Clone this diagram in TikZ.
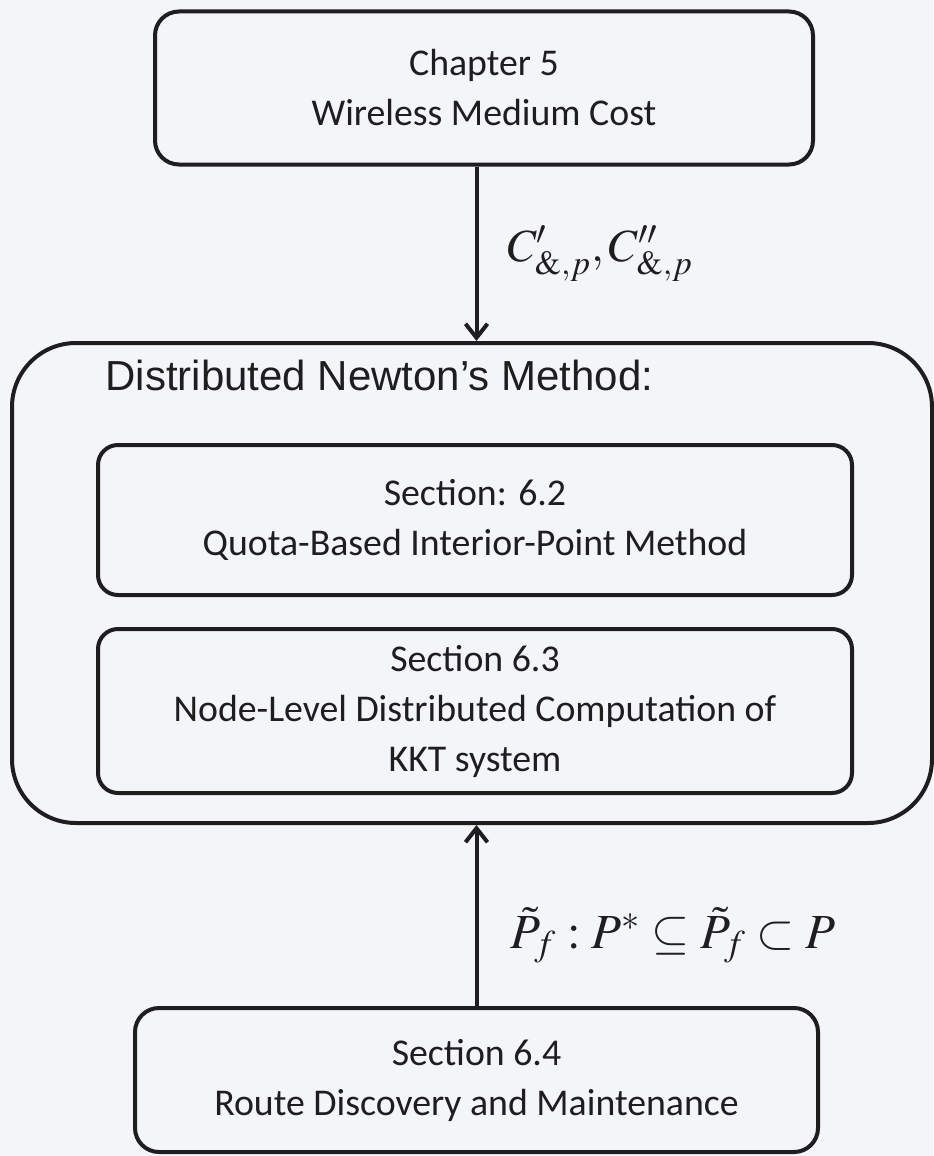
\documentclass[tikz,border=0pt]{standalone}
\usepackage{mathptmx}
\usepackage[no-math]{fontspec}
\setmainfont{Carlito}
\newfontfamily\arialfont{Liberation Sans}
\usetikzlibrary{arrows.meta}
\definecolor{paper}{RGB}{244,245,249}
\definecolor{ink}{RGB}{30,30,30}

\begin{document}
\begin{tikzpicture}[x=0.5pt,y=-0.5pt,>={Straight Barb[length=7pt,width=11pt,line width=2pt]},
        box/.style={draw=ink,line width=2pt,rounded corners=12pt,align=center,text=ink,
          inner sep=0pt,font=\fontsize{18.9}{25}\selectfont},
        arr/.style={->,draw=ink,line width=2pt},
        lbl/.style={anchor=west,text=ink,inner sep=0pt}]
        \useasboundingbox[fill=paper] (0,0) rectangle (933,1156);
        \node[box,minimum width=329pt,minimum height=76.5pt]  (chap) at (484,88) {Chapter 5\\Wireless Medium Cost};
        \node[box,rounded corners=32pt,minimum width=460pt,minimum height=240pt]  (dnm) at (472,583) {};
        \node[anchor=base west,text=ink,inner sep=0pt,font=\arialfont\fontsize{21}{25}\selectfont]
          (dnmtitle) at (105,390) {Distributed Newton’s Method:};
        \node[box,rounded corners=10pt,minimum width=377pt,minimum height=75pt]  (sec2) at (475,520)
          {Section: 6.2\\Quota-Based Interior-Point Method};
        \node[box,rounded corners=10pt,minimum width=377pt,minimum height=82pt]  (sec3) at (475,711)
          {Section 6.3\\Node-Level Distributed Computation of\\KKT system};
        \node[box,minimum width=341.5pt,minimum height=72pt]  (route) at (476.5,1080)
          {Section 6.4\\Route Discovery and Maintenance};
        \draw[arr] (chap.south -| route.north) -- (route.north |- dnm.north)
          node[lbl,pos=.5,xshift=14.5pt,font=\fontsize{23}{28}\selectfont] (cost) {$C'_{\&,p},C''_{\&,p}$};
        \draw[arr] (route.north) -- (route.north |- dnm.south)
          node[lbl,pos=.39,xshift=16pt,font=\fontsize{24.5}{30}\selectfont] (paths)
          {$\tilde{P}_f : P^{*} \subseteq \tilde{P}_f \subset P$};
      \end{tikzpicture}
\end{document}
